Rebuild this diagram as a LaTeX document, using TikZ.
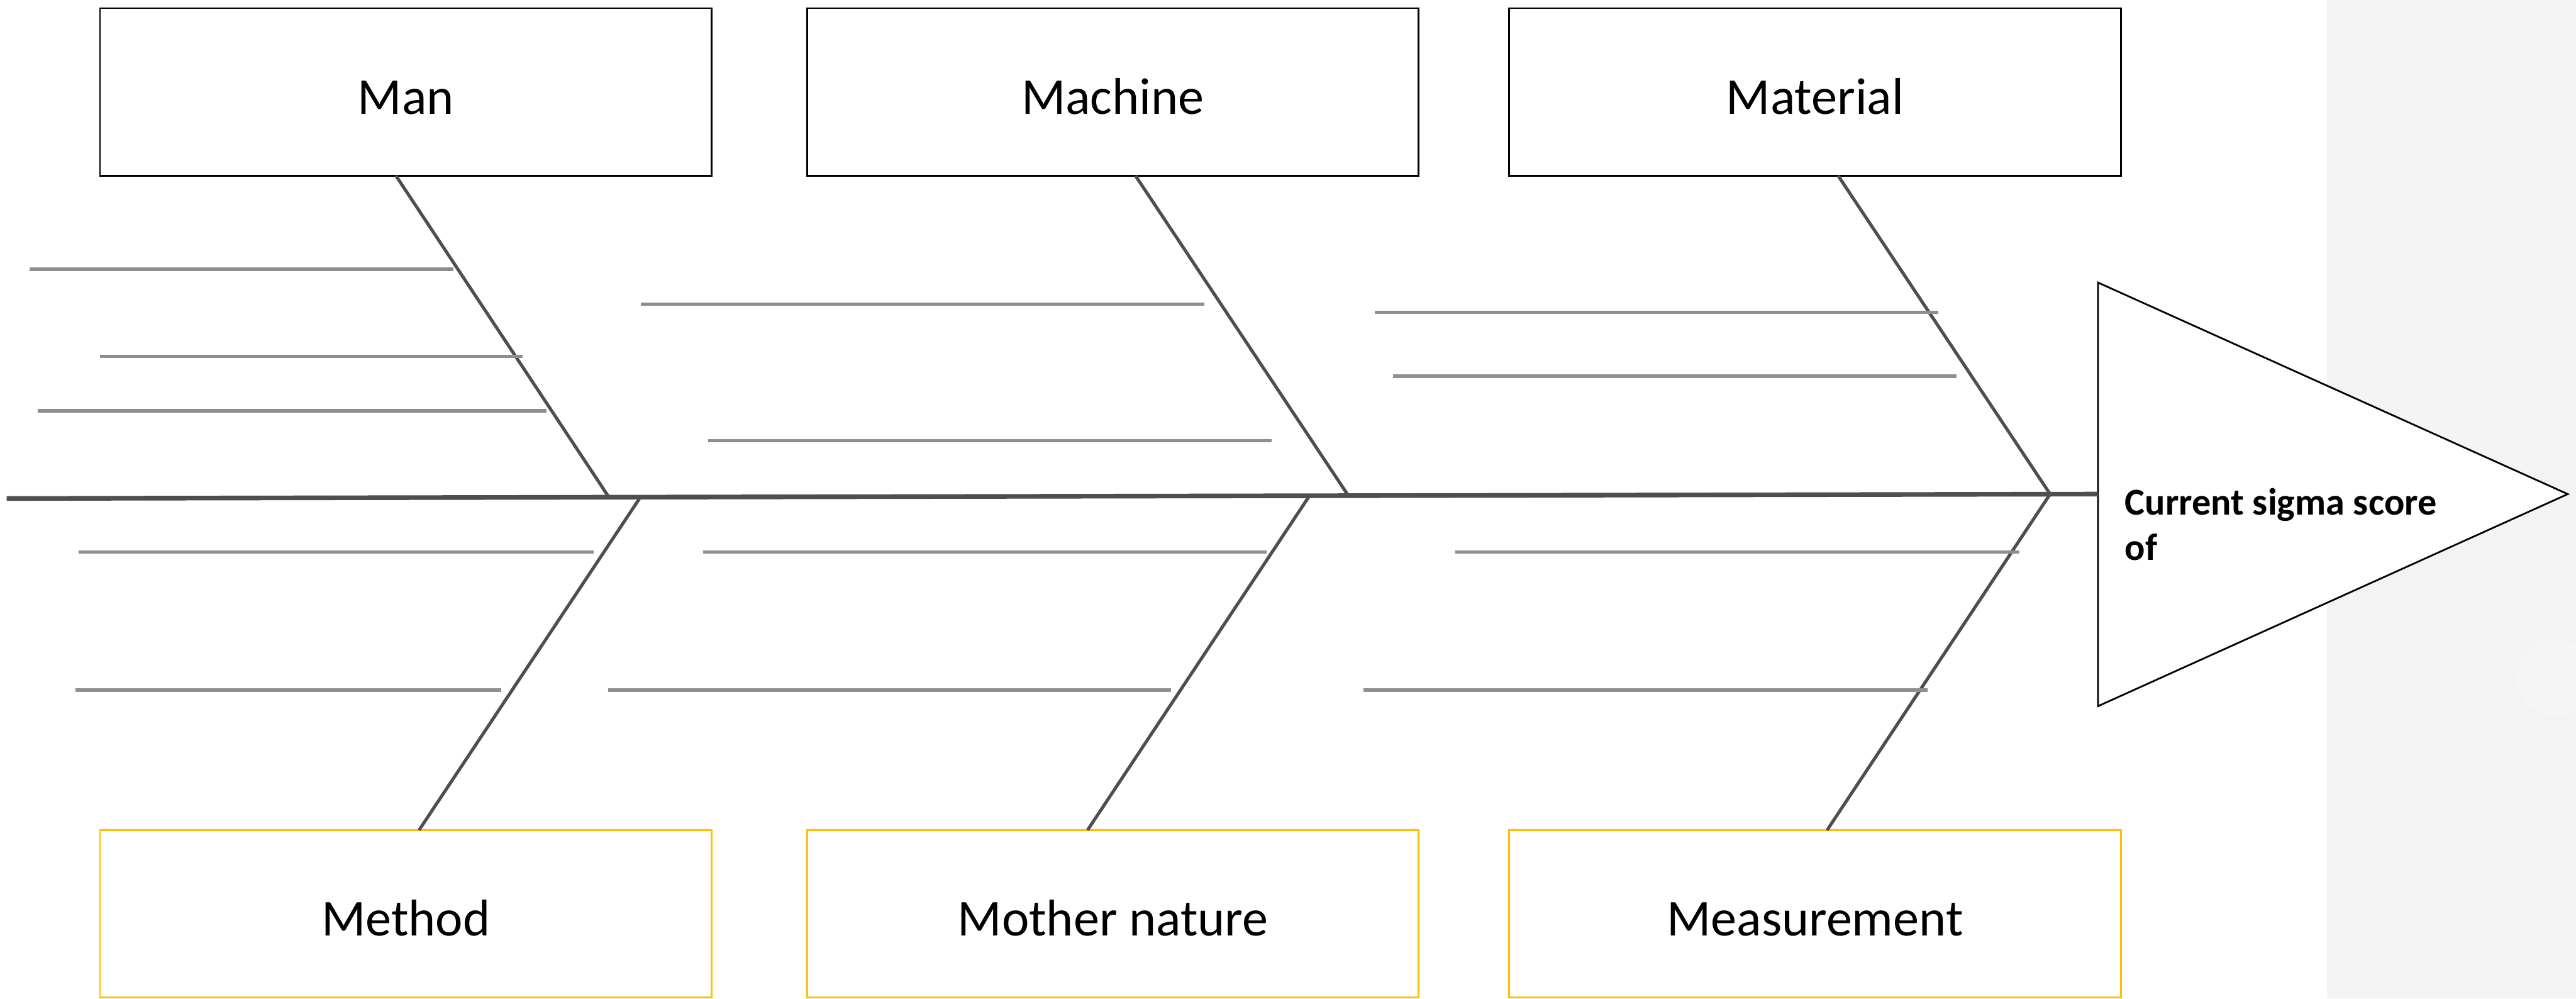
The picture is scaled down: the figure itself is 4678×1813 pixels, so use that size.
\documentclass[tikz,border=0pt]{standalone}
\usepackage{fontspec}
\setmainfont{Carlito}
\begin{document}
\begin{tikzpicture}[x=0.01cm,y=-0.01cm,
  topbox/.style={draw=black,line width=0.9pt,fill=white,minimum width=11.1cm,minimum height=3.04cm,
    inner sep=0pt,text height=0.8cm,text depth=0cm,font=\fontsize{26.7pt}{32pt}\selectfont},
  botbox/.style={topbox,draw=gold},
  spine/.style={draw=darkbone,line width=2.4pt},
  bone/.style={draw=darkbone,line width=1.65pt},
  twig/.style={draw=twiggray,line width=1.75pt}]
\definecolor{gold}{HTML}{FFC000}
\definecolor{darkbone}{HTML}{4E4E4E}
\definecolor{twiggray}{HTML}{8E8E8E}
\definecolor{panel}{HTML}{F3F3F3}

% canvas and the pale panel on the right
\useasboundingbox (0,0) rectangle (4678,1813);
\fill[white] (0,0) rectangle (4678,1813);
\fill[panel] (4226,0) rectangle (4678,1813);
\begin{scope}
  \clip (4226,0) rectangle (4678,1813);
  \fill[white,opacity=0.15] (4600,230) circle (110);
  \fill[white,opacity=0.15] (4660,560) circle (90);
  \fill[white,opacity=0.15] (4520,1050) circle (60);
  \fill[white,opacity=0.18] (4640,1230) circle (70);
  \fill[white,opacity=0.12] (4400,760) circle (130);
  \fill[white,opacity=0.15] (4630,1500) circle (40);
\end{scope}

% category boxes
\node[topbox] (man) at (737,167) {Man};
\node[topbox] (machine) at (2021,167) {Machine};
\node[topbox] (material) at (3296,167) {Material};
\node[botbox] (method) at (737,1659) {Method};
\node[botbox] (nature) at (2021,1659) {Mother nature};
\node[botbox] (measure) at (3296,1659) {Measurement};

% effect head
\coordinate (tl) at (3810,513);
\coordinate (tb) at (3810,1282);
\coordinate (tip) at (4663,897);
\draw[black,line width=0.9pt,fill=white] (tl) -- (tip) -- (tb) -- cycle;
\node[anchor=base west,align=left,inner sep=0pt,font=\bfseries\fontsize{19.6pt}{23.5pt}\selectfont]
  (effect) at (3858,1017) {Current sigma score\\of};

% spine
\coordinate (tail) at (12,905);
\coordinate (head) at (3810,897);
\draw[spine] (tail) -- (head);

% main bones
\coordinate (manT) at (719,319);   \coordinate (manS) at (1104,900);
\coordinate (macT) at (2062,319);  \coordinate (macS) at (2448,899);
\coordinate (matT) at (3338,319);  \coordinate (matS) at (3723,897);
\coordinate (metB) at (761,1507);  \coordinate (metS) at (1164,901);
\coordinate (natB) at (1975,1507); \coordinate (natS) at (2378,900);
\coordinate (meaB) at (3318,1507); \coordinate (meaS) at (3723,897);
\draw[bone] (manT) -- (manS);
\draw[bone] (macT) -- (macS);
\draw[bone] (matT) -- (matS);
\draw[bone] (metB) -- (metS);
\draw[bone] (natB) -- (natS);
\draw[bone] (meaB) -- (meaS);

% cause lines, upper half
\draw[twig] (54,489) -- (823,489);
\draw[twig] (182,647) -- (949,647);
\draw[twig] (69,746) -- (993,746);
\draw[twig] (1164,552) -- (2187,552);
\draw[twig] (1286,800) -- (2309,800);
\draw[twig] (2497,567) -- (3520,567);
\draw[twig] (2530,683) -- (3553,683);

% cause lines, lower half
\draw[twig] (143,1002) -- (1078,1002);
\draw[twig] (137,1253) -- (910,1253);
\draw[twig] (1277,1002) -- (2300,1002);
\draw[twig] (1104,1253) -- (2127,1253);
\draw[twig] (2643,1002) -- (3667,1002);
\draw[twig] (2476,1253) -- (3500,1253);
\end{tikzpicture}
\end{document}
